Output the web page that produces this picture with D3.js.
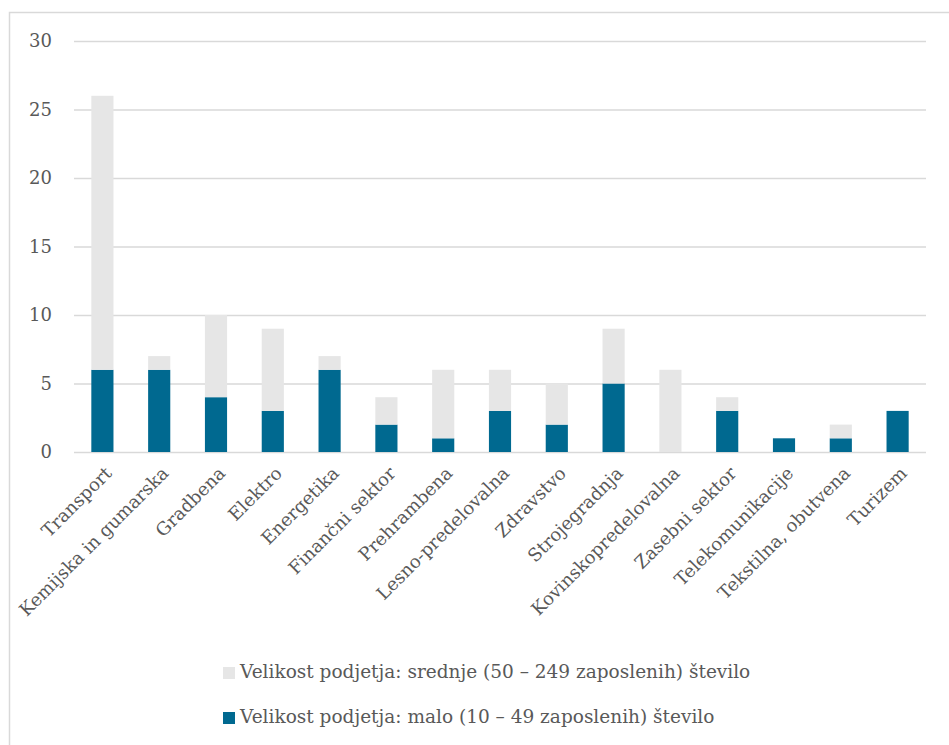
<!DOCTYPE html>
<html>
<head>
<meta charset="utf-8">
<script src="https://cdn.jsdelivr.net/npm/d3@7"></script>
<style>
  body { margin: 0; background: #fff; }
  svg { display: block; }
</style>
</head>
<body>
<svg id="chart" width="949" height="745"></svg>
<script>
var categories = ["Transport", "Kemijska in gumarska", "Gradbena", "Elektro", "Energetika",
  "Finančni sektor", "Prehrambena", "Lesno-predelovalna", "Zdravstvo", "Strojegradnja",
  "Kovinskopredelovalna", "Zasebni sektor", "Telekomunikacije", "Tekstilna, obutvena", "Turizem"];
var malo = [6, 6, 4, 3, 6, 2, 1, 3, 2, 5, 0, 3, 1, 1, 3];
var srednje = [20, 1, 6, 6, 1, 2, 5, 3, 3, 4, 6, 1, 0, 1, 0];
var yTicks = [0, 5, 10, 15, 20, 25, 30];
var seriesNames = ["Velikost podjetja: srednje (50 – 249 zaposlenih) število",
  "Velikost podjetja: malo (10 – 49 zaposlenih) število"];
var seriesColors = ["#e6e6e6", "#006990"];

var fontStack = "'DejaVu Serif', serif";
var textColor = "#595959";

var svg = d3.select("#chart");

// outer frame (runs off the right and bottom edge)
svg.append("rect")
  .attr("x", 9.5).attr("y", 12.5)
  .attr("width", 1000).attr("height", 800)
  .attr("fill", "none").attr("stroke", "#d9d9d9").attr("stroke-width", 1.5);

var plotLeft = 74, plotRight = 926, plotTop = 41, plotBottom = 452;

var x = d3.scaleBand().domain(categories).range([plotLeft, plotRight]).paddingInner(0.61).paddingOuter(0.305);
var y = d3.scaleLinear().domain([0, 30]).range([plotBottom, plotTop]);

// gridlines
svg.append("g").selectAll("line")
  .data(yTicks)
  .enter().append("line")
  .attr("x1", plotLeft).attr("x2", plotRight)
  .attr("y1", function (d) { return y(d) + 0.5; })
  .attr("y2", function (d) { return y(d) + 0.5; })
  .attr("stroke", "#d9d9d9").attr("stroke-width", 1.5);

// y tick labels
svg.append("g").selectAll("text")
  .data(yTicks)
  .enter().append("text")
  .attr("x", 52).attr("y", function (d) { return y(d); })
  .attr("dy", "0.35em")
  .attr("text-anchor", "end")
  .attr("font-family", fontStack)
  .attr("fill", textColor)
  .style("font-size", "18px")
  .text(function (d) { return d; });

var rows = categories.map(function (c, i) { return { cat: c, malo: malo[i], srednje: srednje[i] }; });
var stacked = d3.stack().keys(["malo", "srednje"])(rows);
var colorFor = { malo: seriesColors[1], srednje: seriesColors[0] };

svg.append("g").selectAll("g")
  .data(stacked)
  .enter().append("g")
  .attr("fill", function (s) { return colorFor[s.key]; })
  .selectAll("rect")
  .data(function (s) { return s; })
  .enter().append("rect")
  .attr("x", function (d) { return x(d.data.cat); })
  .attr("width", x.bandwidth())
  .attr("y", function (d) { return y(d[1]); })
  .attr("height", function (d) { return y(d[0]) - y(d[1]); });

// category labels, rotated
svg.append("g").selectAll("text")
  .data(categories)
  .enter().append("text")
  .attr("transform", function (d) {
    return "translate(" + (x(d) + x.bandwidth() / 2 + 6) + "," + 470 + ") rotate(-45)";
  })
  .attr("text-anchor", "end")
  .attr("dy", "0.35em")
  .attr("font-family", fontStack)
  .attr("fill", textColor)
  .style("font-size", "18px")
  .text(function (d) { return d; });

// legend
var legend = svg.append("g").selectAll("g")
  .data(seriesNames)
  .enter().append("g")
  .attr("transform", function (d, i) { return "translate(223," + (672 + i * 45) + ")"; });
legend.append("rect")
  .attr("x", 0).attr("y", -5).attr("width", 12).attr("height", 12)
  .attr("fill", function (d, i) { return seriesColors[i]; });
legend.append("text")
  .attr("x", 17).attr("dy", "0.35em")
  .attr("font-family", fontStack)
  .attr("fill", textColor)
  .style("font-size", "18.5px")
  .text(function (d) { return d; });
</script>
</body>
</html>
